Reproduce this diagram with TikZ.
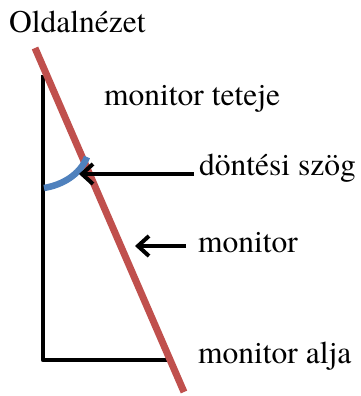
\documentclass[tikz,border=0pt]{standalone}
\usepackage{fontspec}
\newfontfamily\lblfont{TeX Gyre Termes}
\usetikzlibrary{arrows.meta}
\definecolor{monred}{RGB}{192,80,77}
\definecolor{angblue}{RGB}{79,129,189}
\begin{document}
\begin{tikzpicture}[x=1pt,y=-1pt,
  lbl/.style={anchor=base west,inner sep=0pt,font=\lblfont\fontsize{31.5}{37}\selectfont},
  frame/.style={draw=black,line width=4.5pt,line join=round},
  monline/.style={draw=monred,line width=7pt},
  angarc/.style={draw=angblue,line width=6.5pt},
  pointer/.style={draw=black,line width=4pt,-{Straight Barb[length=11pt,width=20pt]}}]
\useasboundingbox (0,0) rectangle (361,396);
% labels
\node[lbl] (title) at (9,33) {Oldalnézet};
\node[lbl] (top) at (104,105) {monitor teteje};
\node[lbl] (angle) at (199,175) {döntési szög};
\node[lbl] (mon) at (198,252) {monitor};
\node[lbl] (bottom) at (198,363) {monitor alja};
% geometry
\coordinate (vtop) at (43,75);
\coordinate (corner) at (43,360);
\coordinate (hend) at (170,360);
\coordinate (rtop) at (35,48);
\coordinate (rbot) at (184,392);
\coordinate (a1) at (44,188);
\coordinate (a2) at (87,157);
\coordinate (tip1) at (79,174);
\coordinate (tail1) at (194,174);
\coordinate (tip2) at (135,246);
\coordinate (tail2) at (186,246);
\draw[frame] (vtop) -- (corner) -- (hend);
\draw[monline] (rtop) -- (rbot);
\draw[angarc] (a1) .. controls (62,185) and (80,175) .. (a2);
\draw[pointer] (tail1) -- (tip1);
\draw[pointer] (tail2) -- (tip2);
\end{tikzpicture}
\end{document}
